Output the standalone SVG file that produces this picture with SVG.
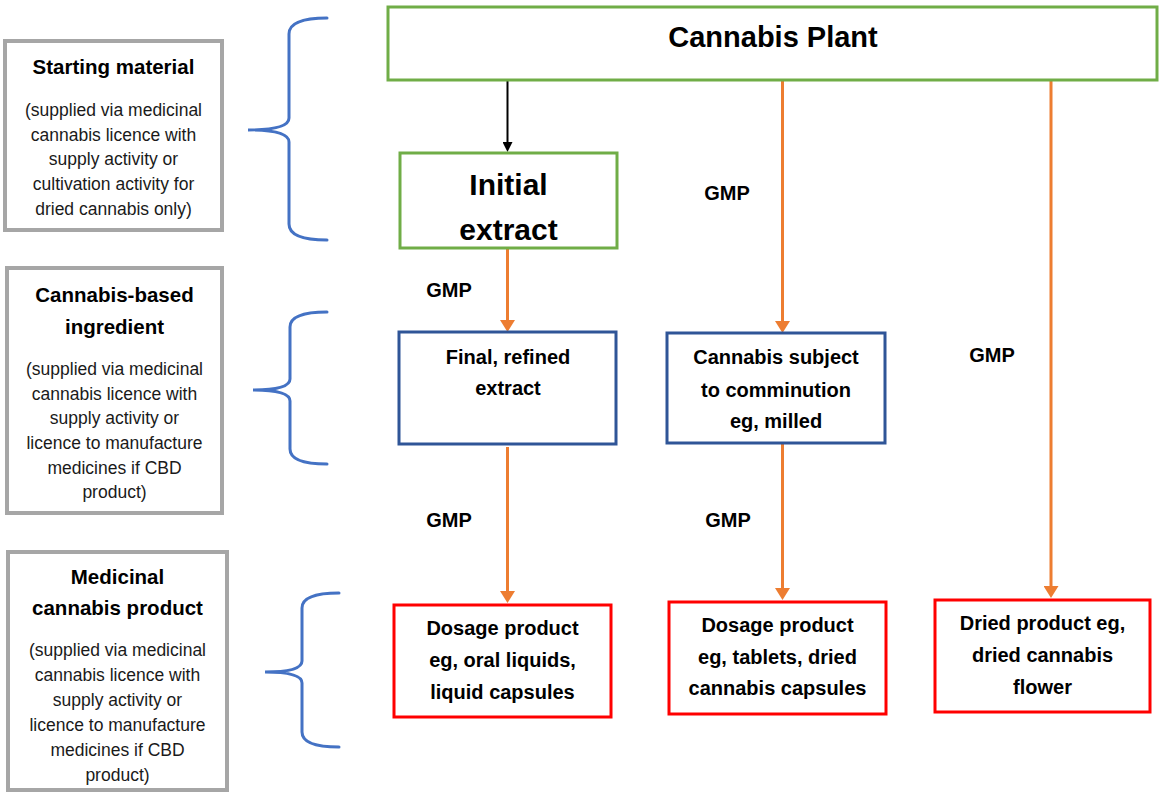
<svg xmlns="http://www.w3.org/2000/svg" width="1160" height="794" viewBox="0 0 1160 794">
<style>
  text { font-family: "Liberation Sans", Arial, sans-serif; fill: #000; text-anchor: middle; }
  .hd { font-size: 20.5px; font-weight: bold; }
  .sm { font-size: 17.5px; fill: #1a1a1a; }
  .nd { font-size: 20px; font-weight: bold; }
  .big { font-size: 30px; font-weight: bold; }
  .gmp { font-size: 20px; font-weight: bold; }
  .gray { fill: #fff; stroke: #a6a6a6; stroke-width: 4; }
  .green { fill: #fff; stroke: #70ad47; stroke-width: 3; }
  .blue { fill: #fff; stroke: #2f5597; stroke-width: 3; }
  .red { fill: #fff; stroke: #ff0000; stroke-width: 3; }
  .brace { fill: none; stroke: #4472c4; stroke-width: 3; stroke-linecap: round; }
  .or { stroke: #ed7d31; stroke-width: 3; fill: none; marker-end: url(#ao); }
  .bk { stroke: #000; stroke-width: 2; fill: none; marker-end: url(#ab); }
</style>
<defs>
  <marker id="ao" markerUnits="userSpaceOnUse" markerWidth="12" markerHeight="15" refX="6" refY="7.5" orient="auto" viewBox="0 0 12 15">
    <path d="M0,0 L12,7.5 L0,15 z" fill="#ed7d31"/>
  </marker>
  <marker id="ab" markerUnits="userSpaceOnUse" markerWidth="10" markerHeight="10" refX="5" refY="5" orient="auto" viewBox="0 0 10 10">
    <path d="M0,0 L10,5 L0,10 z" fill="#000"/>
  </marker>
</defs>

<g id="label-starting">
  <rect class="gray" x="5" y="41" width="217" height="189"/>
  <text class="hd" x="113.5" y="74">Starting material</text>
  <text class="sm" x="113.5" y="116">(supplied via medicinal</text>
  <text class="sm" x="113.5" y="141">cannabis licence with</text>
  <text class="sm" x="113.5" y="165">supply activity or</text>
  <text class="sm" x="113.5" y="190">cultivation activity for</text>
  <text class="sm" x="113.5" y="215">dried cannabis only)</text>
</g>
<g id="label-ingredient">
  <rect class="gray" x="7" y="268" width="215" height="245"/>
  <text class="hd" x="114.5" y="302">Cannabis-based</text>
  <text class="hd" x="114.5" y="334">ingredient</text>
  <text class="sm" x="114.5" y="375">(supplied via medicinal</text>
  <text class="sm" x="114.5" y="400">cannabis licence with</text>
  <text class="sm" x="114.5" y="424">supply activity or</text>
  <text class="sm" x="114.5" y="449">licence to manufacture</text>
  <text class="sm" x="114.5" y="474">medicines if CBD</text>
  <text class="sm" x="114.5" y="498">product)</text>
</g>
<g id="label-product">
  <rect class="gray" x="8" y="552" width="219" height="238"/>
  <text class="hd" x="117.5" y="584">Medicinal</text>
  <text class="hd" x="117.5" y="615">cannabis product</text>
  <text class="sm" x="117.5" y="656">(supplied via medicinal</text>
  <text class="sm" x="117.5" y="681">cannabis licence with</text>
  <text class="sm" x="117.5" y="706">supply activity or</text>
  <text class="sm" x="117.5" y="731">licence to manufacture</text>
  <text class="sm" x="117.5" y="756">medicines if CBD</text>
  <text class="sm" x="117.5" y="781">product)</text>
</g>

<g id="braces">
  <path class="brace" d="M327,18 Q289,18 289,34 L289,118 Q289,130 248,130 Q289,130 289,142 L289,224 Q289,240 327,240"/>
  <path class="brace" d="M327,312 Q290,312 290,327 L290,379 Q290,390 253,390 Q290,390 290,401 L290,449 Q290,464 327,464"/>
  <path class="brace" d="M339,593 Q302,593 302,608 L302,661 Q302,672 265,672 Q302,672 302,683 L302,732 Q302,747 339,747"/>
</g>

<g id="connectors">
  <line class="bk" x1="507.5" y1="81" x2="507.5" y2="147"/>
  <line class="or" x1="507.5" y1="248" x2="507.5" y2="326"/>
  <line class="or" x1="782.5" y1="81" x2="782.5" y2="327"/>
  <line class="or" x1="1051" y1="81" x2="1051" y2="592"/>
  <line class="or" x1="507.5" y1="447" x2="507.5" y2="597"/>
  <line class="or" x1="782.5" y1="443" x2="782.5" y2="594"/>
  <text class="gmp" x="727" y="200">GMP</text>
  <text class="gmp" x="449" y="297">GMP</text>
  <text class="gmp" x="992" y="362">GMP</text>
  <text class="gmp" x="449" y="527">GMP</text>
  <text class="gmp" x="728" y="527">GMP</text>
</g>

<g id="cannabis-plant">
  <rect class="green" x="388" y="7" width="769" height="73"/>
  <text class="big" x="773" y="47" style="font-size:29px">Cannabis Plant</text>
</g>
<g id="initial-extract">
  <rect class="green" x="400" y="153" width="217" height="95"/>
  <text class="big" x="508.5" y="195">Initial</text>
  <text class="big" x="508.5" y="240">extract</text>
</g>
<g id="final-extract">
  <rect class="blue" x="399" y="332" width="217" height="112"/>
  <text class="nd" x="508" y="364">Final, refined</text>
  <text class="nd" x="508" y="395">extract</text>
</g>
<g id="comminution">
  <rect class="blue" x="667" y="333" width="218" height="110"/>
  <text class="nd" x="776" y="364">Cannabis subject</text>
  <text class="nd" x="776" y="397">to comminution</text>
  <text class="nd" x="776" y="428">eg, milled</text>
</g>
<g id="dosage-liquid">
  <rect class="red" x="394" y="605" width="217" height="112"/>
  <text class="nd" x="502.5" y="635">Dosage product</text>
  <text class="nd" x="502.5" y="667">eg, oral liquids,</text>
  <text class="nd" x="502.5" y="699">liquid capsules</text>
</g>
<g id="dosage-tablets">
  <rect class="red" x="669" y="602" width="217" height="112"/>
  <text class="nd" x="777.5" y="632">Dosage product</text>
  <text class="nd" x="777.5" y="664">eg, tablets, dried</text>
  <text class="nd" x="777.5" y="695">cannabis capsules</text>
</g>
<g id="dried-product">
  <rect class="red" x="935" y="600" width="215" height="112"/>
  <text class="nd" x="1042.5" y="630">Dried product eg,</text>
  <text class="nd" x="1042.5" y="662">dried cannabis</text>
  <text class="nd" x="1042.5" y="694">flower</text>
</g>
</svg>
